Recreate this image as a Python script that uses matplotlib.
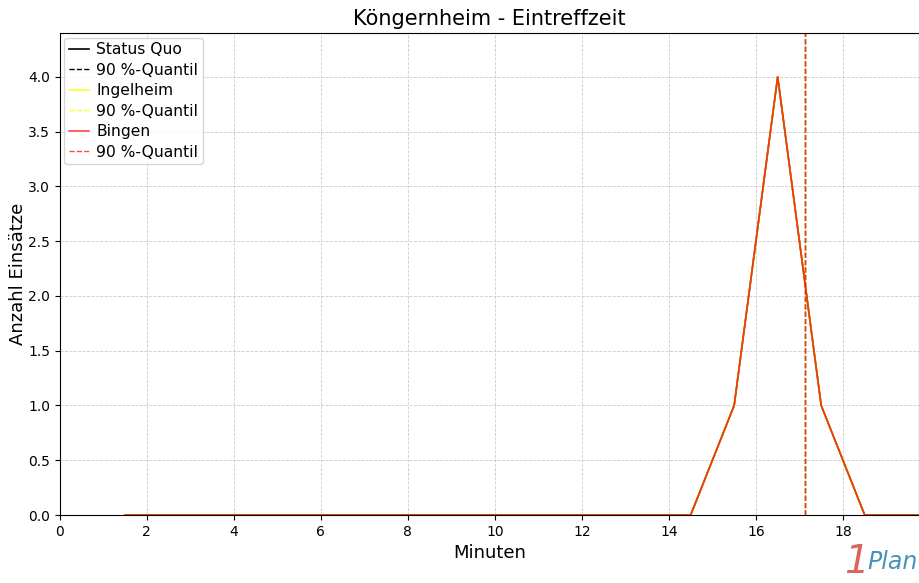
import matplotlib
matplotlib.use("Agg")
import matplotlib.pyplot as plt
import numpy as np

minutes = [1.5, 2.5, 3.5, 4.5, 5.5, 6.5, 7.5, 8.5, 9.5, 10.5, 11.5, 12.5, 13.5,
           14.5, 15.5, 16.5, 17.5, 18.5, 19.5, 20.5]
status_quo = [0, 0, 0, 0, 0, 0, 0, 0, 0, 0, 0, 0, 0, 0, 1, 4, 1, 0, 0, 0]
ingelheim = [0, 0, 0, 0, 0, 0, 0, 0, 0, 0, 0, 0, 0, 0, 1, 4, 1, 0, 0, 0]
bingen = [0, 0, 0, 0, 0, 0, 0, 0, 0, 0, 0, 0, 0, 0, 1, 4, 1, 0, 0, 0]
q90_status_quo = 17.13
q90_ingelheim = 17.13
q90_bingen = 17.13

fig = plt.figure(figsize=(9.2, 5.83), dpi=100)
ax = fig.add_axes([0.065, 0.1166, 0.934, 0.8268])

ax.plot(minutes, status_quo, color="black", lw=1.2, label="Status Quo")
ax.axvline(q90_status_quo, color="black", ls="--", lw=1.0, label="90 %-Quantil")
ax.plot(minutes, ingelheim, color="yellow", alpha=0.85, lw=1.2, label="Ingelheim")
ax.axvline(q90_ingelheim, color="yellow", alpha=0.85, ls="--", lw=1.0, label="90 %-Quantil")
ax.plot(minutes, bingen, color="red", alpha=0.72, lw=1.2, label="Bingen")
ax.axvline(q90_bingen, color="red", alpha=0.72, ls="--", lw=1.0, label="90 %-Quantil")

ax.set_xlim(0, 19.75)
ax.set_ylim(0, 4.4)
ax.set_xticks(np.arange(0, 19, 2))
ax.set_yticks(np.arange(0, 4.01, 0.5))
ax.set_yticklabels([f"{v:.1f}" for v in np.arange(0, 4.01, 0.5)])
ax.tick_params(labelsize=10)
ax.grid(True, ls="--", color="#cccccc", lw=0.6)
ax.set_title("Köngernheim - Eintreffzeit", fontsize=15)
ax.set_xlabel("Minuten", fontsize=13)
ax.set_ylabel("Anzahl Einsätze", fontsize=13, labelpad=1)
ax.legend(loc="upper left", fontsize=11.2, handlelength=1.3, borderaxespad=0.3,
          labelspacing=0.35, borderpad=0.3, handletextpad=0.45)

fig.text(0.918, 0.004, "1", color="#d9665b", fontsize=28, style="italic", ha="left", va="bottom")
fig.text(0.943, 0.016, "Plan", color="#4a90b8", fontsize=17, style="italic", ha="left", va="bottom")

fig.savefig("out.png", dpi=100)
